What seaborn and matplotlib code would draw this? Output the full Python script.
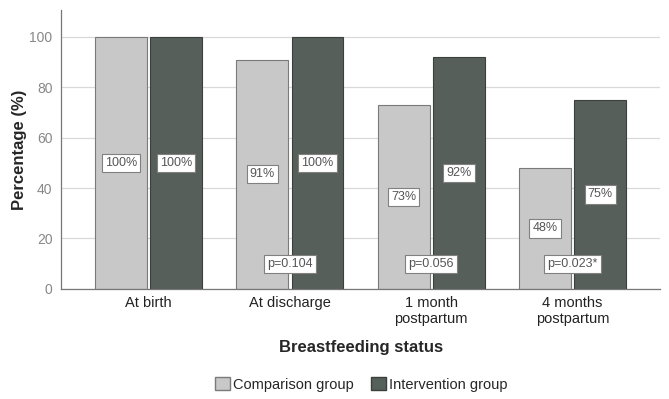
import pandas as pd
import matplotlib
matplotlib.use("Agg")
import matplotlib.pyplot as plt
import seaborn as sns
from matplotlib.patches import Patch

# データ
categories = ["At birth", "At discharge", "1 month\npostpartum", "4 months\npostpartum"]
comparison = [100, 91, 73, 48]
intervention = [100, 100, 92, 75]
p_labels = [None, "p=0.104", "p=0.056", "p=0.023*"]
groups = ["Comparison group", "Intervention group"]

colors = {"Comparison group": "#c8c8c8", "Intervention group": "#56605a"}
edges = {"Comparison group": "#7a7a7a", "Intervention group": "#3a403c"}

df = pd.DataFrame({
    "status": categories * 2,
    "group": [groups[0]] * 4 + [groups[1]] * 4,
    "pct": comparison + intervention,
})

sns.set_style("white")
plt.rcParams["font.family"] = ["Liberation Sans", "DejaVu Sans"]

fig = plt.figure(figsize=(6.69, 3.99), dpi=100)
ax = fig.add_axes([0.091, 0.276, 0.896, 0.699])

sns.barplot(data=df, x="status", y="pct", hue="group", order=categories,
            hue_order=groups, palette=colors, width=0.78, gap=0.06,
            legend=False, ax=ax, zorder=2)

for bar_group, g in zip(ax.containers, groups):
    for bar in bar_group:
        bar.set_edgecolor(edges[g])
        bar.set_linewidth(0.8)

box = dict(boxstyle="square,pad=0.25", fc="white", ec="#808080", lw=0.8)

# バー中央のラベル
for bar_group in ax.containers:
    for bar in bar_group:
        h = bar.get_height()
        x = bar.get_x() + bar.get_width() / 2
        ax.text(x, h / 2, f"{h:.0f}%", ha="center", va="center", fontsize=9,
                color="#555555", zorder=4, bbox=box)

# p値ラベル
for i, p in enumerate(p_labels):
    if p:
        ax.text(i, 10, p, ha="center", va="center", fontsize=9, color="#555555",
                zorder=4, bbox=box)

ax.set_ylim(0, 110.7)
ax.set_xlim(-0.62, 3.62)
ax.set_yticks([0, 20, 40, 60, 80, 100])
ax.yaxis.grid(True, color="#d9d9d9", linewidth=0.9, zorder=0)
ax.set_axisbelow(True)
for s in ["top", "right"]:
    ax.spines[s].set_visible(False)
for s in ["left", "bottom"]:
    ax.spines[s].set_color("#777777")
    ax.spines[s].set_linewidth(0.9)

ax.tick_params(axis="y", labelsize=10, colors="#888888", length=0, pad=6)
ax.tick_params(axis="x", labelsize=10.5, labelcolor="#222222", length=0, pad=5)
for t in ax.get_yticklabels():
    t.set_color("#888888")

ax.set_ylabel("Percentage (%)", fontsize=12, fontweight="bold", labelpad=2)
ax.set_xlabel("Breastfeeding status", fontsize=12, fontweight="bold", labelpad=10)

handles = [Patch(facecolor=colors[g], edgecolor=edges[g], label=g) for g in groups]
fig.legend(handles=handles, loc="center", bbox_to_anchor=(0.54, 0.036), ncol=2,
           frameon=False, fontsize=10.5, handlelength=1.0, handleheight=1.0,
           handletextpad=0.2, columnspacing=1.2)

plt.savefig("out.png", dpi=100)
